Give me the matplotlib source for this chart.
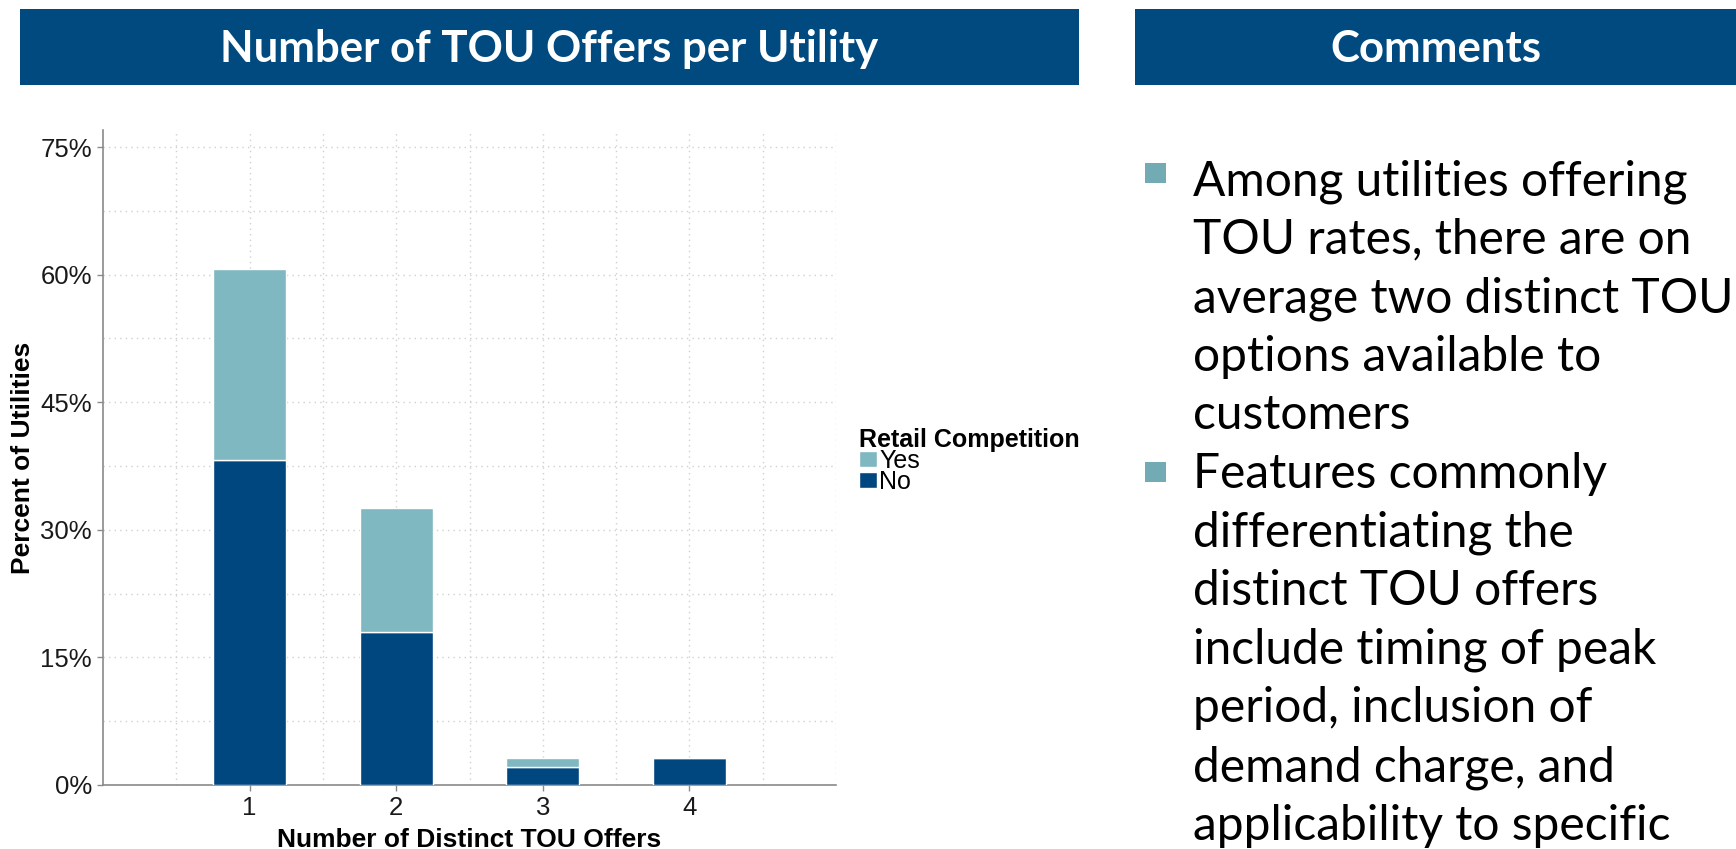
import matplotlib
matplotlib.use("Agg")
import matplotlib.pyplot as plt
from matplotlib.patches import Rectangle
import numpy as np

# data
offers = [1, 2, 3, 4]
pct_no = [38.2, 18.0, 2.15, 3.2]
pct_yes = [22.5, 14.6, 1.05, 0.0]
yticks = [0, 15, 30, 45, 60, 75]

bullet1 = ["Among utilities offering", "TOU rates, there are on",
           "average two distinct TOU", "options available to", "customers"]
bullet2 = ["Features commonly", "differentiating the", "distinct TOU offers",
           "include timing of peak", "period, inclusion of",
           "demand charge, and", "applicability to specific"]

DARK = "#00467f"
LIGHT = "#80b8c2"
BULLET = "#72abb4"
HEAD = "#004a80"
GRID = "#d0d0d0"
AXC = "#8a8a8a"

W, H = 1736, 849
fig = plt.figure(figsize=(W / 100, H / 100), dpi=100)

def fx(px):
    return px / W

def fy(py):
    return 1 - py / H

# header bars
for x0, x1, title in [(20, 1079, "Number of TOU Offers per Utility"),
                      (1135, 1736, "Comments")]:
    fig.add_artist(Rectangle((fx(x0), fy(85)), fx(x1 - x0), (85 - 9) / H,
                             transform=fig.transFigure, color=HEAD, lw=0))
    fig.text(fx((x0 + x1) / 2), fy(49), title, color="white", family="Lato",
             weight="bold", fontsize=31.5, ha="center", va="center")

# chart
ax = fig.add_axes([fx(103), fy(785), fx(836 - 103), (785 - 130) / H])
b_no = ax.bar(offers, pct_no, width=0.5, color=DARK, edgecolor="white", lw=1, zorder=3)
b_yes = ax.bar(offers, pct_yes, width=0.5, bottom=pct_no, color=LIGHT,
               edgecolor="white", lw=1, zorder=3)
ax.set_xlim(0, 5)
ax.set_ylim(0, 77)
ax.set_yticks(yticks)
ax.set_yticklabels([f"{v}%" for v in yticks])
ax.set_yticks(np.arange(7.5, 75, 15), minor=True)
ax.set_xticks(offers)
ax.set_xticks(np.arange(0.5, 5.01, 0.5), minor=True)
ax.grid(True, which="both", color=GRID, ls=(0, (1, 3)), lw=1, zorder=0)
ax.tick_params(which="minor", length=0)
ax.tick_params(which="major", length=4, color=AXC, width=1, labelsize=18.5,
               labelcolor="#1a1a1a", pad=4)
for t in ax.get_xticklabels() + ax.get_yticklabels():
    t.set_family("Liberation Sans")
for s in ["top", "right"]:
    ax.spines[s].set_visible(False)
for s in ["left", "bottom"]:
    ax.spines[s].set_color(AXC)
    ax.spines[s].set_linewidth(1.2)
ax.set_xlabel("Number of Distinct TOU Offers", family="Liberation Sans",
              weight="bold", fontsize=19, labelpad=6)
ax.set_ylabel("Percent of Utilities", family="Liberation Sans",
              weight="bold", fontsize=19, labelpad=4)

leg = ax.legend([b_yes, b_no], ["Yes", "No"], title="Retail Competition",
                loc="upper left", bbox_to_anchor=(fx(859), fy(428)),
                bbox_transform=fig.transFigure, frameon=False, borderpad=0,
                borderaxespad=0, labelspacing=-0.12, handlelength=0.72,
                handleheight=0.62, handletextpad=0.08, alignment="left",
                prop={"family": "Liberation Sans", "size": 18},
                title_fontproperties={"family": "Liberation Sans",
                                      "weight": "bold", "size": 18})

# comments
base = 195
step = 58.6
drop = [0, 6]
for i, lines in enumerate([bullet1, bullet2]):
    first = base + (0 if i == 0 else len(bullet1)) * step
    fig.add_artist(Rectangle((fx(1145), fy(first - 12 + drop[i])), fx(21), 20 / H,
                             transform=fig.transFigure, color=BULLET, lw=0))
    for j, line in enumerate(lines):
        fig.text(fx(1193), fy(first + j * step), line, family="Lato",
                 fontsize=34.5, va="baseline", ha="left", color="black")

fig.savefig("out.png", dpi=100)
